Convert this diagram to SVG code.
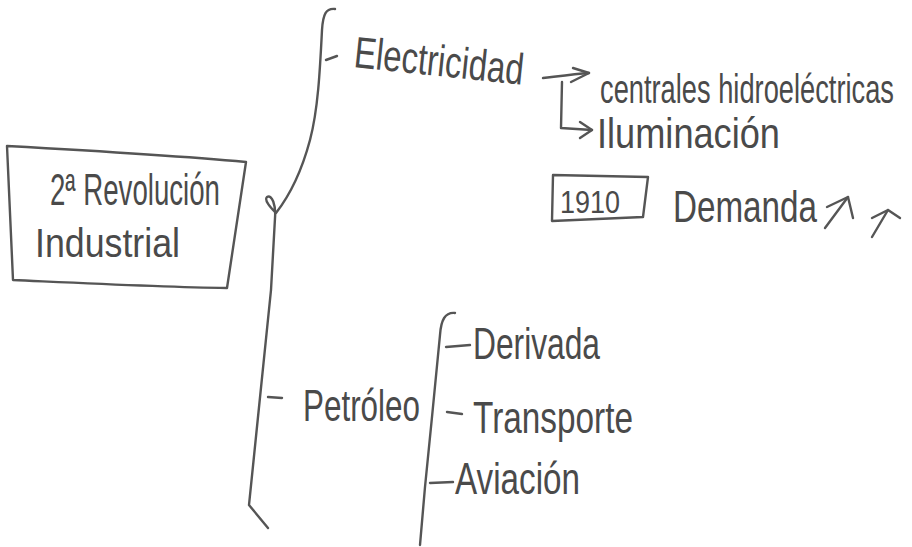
<svg xmlns="http://www.w3.org/2000/svg" width="912" height="547" viewBox="0 0 912 547">
  <style>
    .ink { fill: none; stroke: #555; stroke-width: 2.4; stroke-linecap: round; stroke-linejoin: round; }
    .t { font-family: "Liberation Sans", "DejaVu Sans", sans-serif; fill: #4a4a4a; }
  </style>
  <rect width="912" height="547" fill="#ffffff"/>

  <g id="connectors">
    <!-- main brace -->
    <path class="ink" d="M335,9 C326,8 323,14 322,30 C320,70 318,110 310,140 C302,170 290,195 276,213 C270,207 264,200 267,197 C272,194 276,205 275,218 L271,290 L249,505 L268,528"/>
    <!-- dash to Electricidad -->
    <path class="ink" d="M326,60 L337,56"/>
    <!-- dash to Petroleo -->
    <path class="ink" d="M268,397 L282,398"/>
    <!-- second brace -->
    <path class="ink" d="M455,313 C445,312 441,320 440,335 L432,417 L425,487 L420,545"/>
    <path class="ink" d="M446,347 L470,345"/>
    <path class="ink" d="M447,412 L462,414"/>
    <path class="ink" d="M430,483 L453,482"/>
    <!-- arrow to centrales -->
    <path class="ink" d="M543,78 C560,76 575,74 589,73"/>
    <path class="ink" d="M573,68 L589,73 L571,82"/>
    <!-- elbow to Iluminacion -->
    <path class="ink" d="M562,82 L561,128 L592,130"/>
    <path class="ink" d="M580,122 L592,130 L580,138"/>
    <!-- demanda arrows -->
    <path class="ink" d="M825,228 L848,197"/>
    <path class="ink" d="M827,207 L848,197 L853,218"/>
    <path class="ink" d="M872,237 L888,210"/>
    <path class="ink" d="M872,218 L888,210 L900,218"/>
  </g>

  <g id="node-revolucion">
    <path class="ink" d="M7,146 C80,150 170,155 246,162 L227,288 C160,287 80,283 13,280 Z"/>
    <text class="t" x="50" y="205" font-size="44" textLength="170" lengthAdjust="spacingAndGlyphs">2ª Revolución</text>
    <text class="t" x="35" y="257" font-size="40" textLength="145" lengthAdjust="spacingAndGlyphs">Industrial</text>
  </g>

  <g id="node-electricidad">
    <text class="t" x="353" y="67" font-size="44" textLength="170" lengthAdjust="spacingAndGlyphs" transform="rotate(6 353 67)">Electricidad</text>
  </g>

  <g id="node-centrales">
    <text class="t" x="0" y="0" font-size="27.5" textLength="294" lengthAdjust="spacingAndGlyphs" transform="translate(600 103) scale(1 1.45)">centrales hidroeléctricas</text>
  </g>

  <g id="node-iluminacion">
    <text class="t" x="597" y="148" font-size="42" textLength="183" lengthAdjust="spacingAndGlyphs">Iluminación</text>
  </g>

  <g id="node-1910">
    <path class="ink" d="M553,175 L648,177 L643,217 L552,221 Z"/>
    <text class="t" x="560" y="213" font-size="32" textLength="60" lengthAdjust="spacingAndGlyphs">1910</text>
  </g>

  <g id="node-demanda">
    <text class="t" x="673" y="222" font-size="44" textLength="144" lengthAdjust="spacingAndGlyphs">Demanda</text>
  </g>

  <g id="node-petroleo">
    <text class="t" x="303" y="421" font-size="44" textLength="117" lengthAdjust="spacingAndGlyphs">Petróleo</text>
  </g>

  <g id="node-derivada">
    <text class="t" x="473" y="359" font-size="44" textLength="127" lengthAdjust="spacingAndGlyphs">Derivada</text>
  </g>

  <g id="node-transporte">
    <text class="t" x="473" y="433" font-size="44" textLength="160" lengthAdjust="spacingAndGlyphs">Transporte</text>
  </g>

  <g id="node-aviacion">
    <text class="t" x="455" y="494" font-size="44" textLength="125" lengthAdjust="spacingAndGlyphs">Aviación</text>
  </g>
</svg>
